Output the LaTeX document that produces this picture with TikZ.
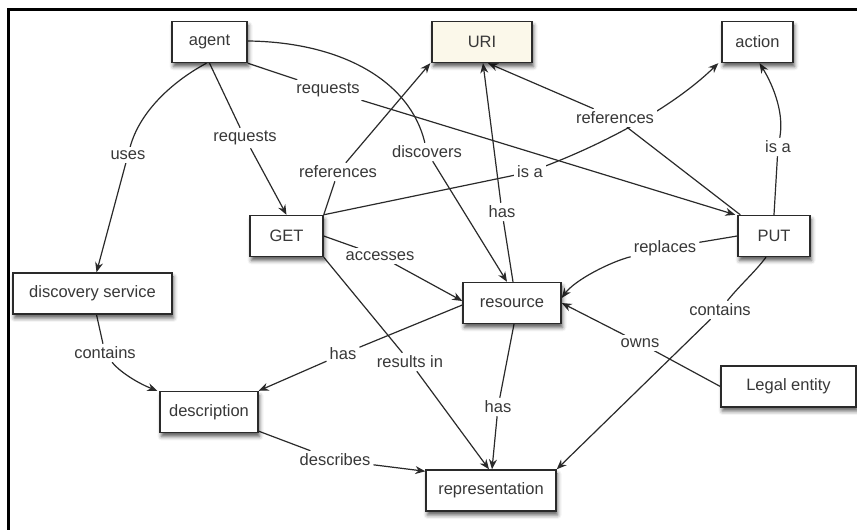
\documentclass[tikz,border=0pt]{standalone}
\usepackage{fontspec}
\setmainfont{Liberation Sans}
\usetikzlibrary{arrows.meta,shadows.blur,backgrounds}
\definecolor{edgegray}{HTML}{2A2A2A}
\definecolor{textgray}{HTML}{383838}
\definecolor{uricream}{HTML}{FBF8EA}
\begin{document}
\begin{tikzpicture}[x=1pt,y=1pt,
  concept/.style={draw=edgegray, line width=1.4pt, fill=white, minimum height=41pt,
    inner sep=0pt, text=textgray, font=\fontsize{16.5}{19}\selectfont,
    blur shadow={shadow xshift=1.5pt, shadow yshift=-4pt, shadow blur radius=4pt, shadow opacity=65}},
  link/.style={fill=white, inner sep=3pt, text=textgray, font=\fontsize{16.5}{19}\selectfont},
  rel/.style={draw=edgegray, line width=1.2pt},
  relarrow/.style={rel, -{Stealth[length=10pt,width=8pt]}}]

\useasboundingbox (0,0) rectangle (857,530);
% page frame (top and left edges)
\draw[line width=3pt] (8.5,0) -- (8.5,520) -- (857,520);

% concepts
\node[concept, minimum width=75pt] (agent) at (209.5,488) {agent};
\node[concept, minimum width=100pt, fill=uricream] (uri) at (482,488) {URI};
\node[concept, minimum width=71pt] (action) at (757.5,488) {action};
\node[concept, minimum width=73pt] (get) at (286.5,294) {GET};
\node[concept, minimum width=72pt] (put) at (774,294) {PUT};
\node[concept, minimum width=159pt] (ds) at (92.5,236.5) {discovery service};
\node[concept, minimum width=98pt] (resource) at (512,227) {resource};
\node[concept, minimum width=98pt] (description) at (209,118) {description};
\node[concept, minimum width=135pt] (legal) at (788.5,143.5) {Legal entity};
\node[concept, minimum width=130pt] (repr) at (491,39.5) {representation};

% relation labels
\node[link] (lReqGet) at (245,392) {requests};
\node[link] (lUses) at (128,375) {uses};
\node[link] (lReqPut) at (328,440) {requests};
\node[link] (lRefGet) at (338,358) {references};
\node[link] (lDisc) at (427,378) {discovers};
\node[link] (lAcc) at (380,274) {accesses};
\node[link] (lIsaGet) at (530,358) {is a};
\node[link] (lHasUri) at (502,318) {has};
\node[link] (lRefPut) at (615,412) {references};
\node[link] (lIsaPut) at (778,383) {is a};
\node[link] (lRepl) at (665,282) {replaces};
\node[link] (lContPut) at (720,220) {contains};
\node[link] (lOwns) at (640,187) {owns};
\node[link] (lHasRep) at (498,123) {has};
\node[link] (lHasDesc) at (343,176) {has};
\node[link] (lRes) at (410,168) {results in};
\node[link] (lContDs) at (105,177) {contains};
\node[link] (lDescr) at (335,70) {describes};

% relations
\begin{scope}[on background layer]
\draw[rel] (agent.south) -- (lReqGet);
\draw[relarrow] (lReqGet) -- (get.north);
\draw[rel] ([xshift=-3pt]agent.south) .. controls (175,450) and (140,420) .. (lUses);
\draw[relarrow] (lUses) -- ([xshift=4pt]ds.north);
\draw[rel] (agent.south east) -- (lReqPut);
\draw[relarrow] (lReqPut) -- ([xshift=-2pt]put.north west);
\draw[rel] ([yshift=1pt]agent.east) .. controls (340,488) and (410,450) .. (lDisc);
\draw[relarrow] (lDisc) -- ([xshift=-5pt]resource.north);
\draw[rel] (get.north east) -- (lRefGet);
\draw[relarrow] (lRefGet) -- ([xshift=-1pt]uri.south west);
\draw[rel] (get.north east) -- (lIsaGet);
\draw[relarrow] (lIsaGet) .. controls (600,385) and (670,420) .. ([xshift=-3pt]action.south west);
\draw[rel] ([xshift=1pt]resource.north) -- (lHasUri);
\draw[relarrow] (lHasUri) -- ([xshift=1pt]uri.south);
\draw[rel] ([xshift=3pt]put.north west) -- (lRefPut);
\draw[relarrow] (lRefPut) -- ([xshift=6pt]uri.south);
\draw[rel] (put.north) -- (lIsaPut);
\draw[relarrow] (lIsaPut) .. controls (785,420) and (770,450) .. ([xshift=2pt]action.south);
\draw[rel] (put.west) -- (lRepl);
\draw[relarrow] (lRepl) .. controls (610,268) and (575,250) .. ([yshift=5pt]resource.east);
\draw[rel] ([xshift=-8pt]put.south) .. controls (755,258) and (740,245) .. (lContPut);
\draw[relarrow] (lContPut) -- (repr.north east);
\draw[rel] (legal.west) -- (lOwns);
\draw[relarrow] (lOwns) -- (resource.east);
\draw[rel] (get.east) -- (lAcc);
\draw[relarrow] (lAcc) -- ([yshift=2pt]resource.west);
\draw[rel] (get.south east) -- (lRes);
\draw[relarrow] (lRes) -- ([xshift=-2pt]repr.north);
\draw[rel] ([yshift=-2pt]resource.west) -- (lHasDesc);
\draw[relarrow] (lHasDesc) -- (description.north east);
\draw[rel] ([xshift=2pt]resource.south) -- (lHasRep);
\draw[relarrow] (lHasRep) -- ([xshift=1pt]repr.north);
\draw[rel] ([xshift=4pt]ds.south) -- (lContDs);
\draw[relarrow] (lContDs) .. controls (118,160) and (135,148) .. ([xshift=-2pt]description.north west);
\draw[rel] ([yshift=2pt]description.south east) -- (lDescr);
\draw[relarrow] (lDescr) -- ([yshift=-2pt]repr.north west);
\end{scope}
\end{tikzpicture}
\end{document}
